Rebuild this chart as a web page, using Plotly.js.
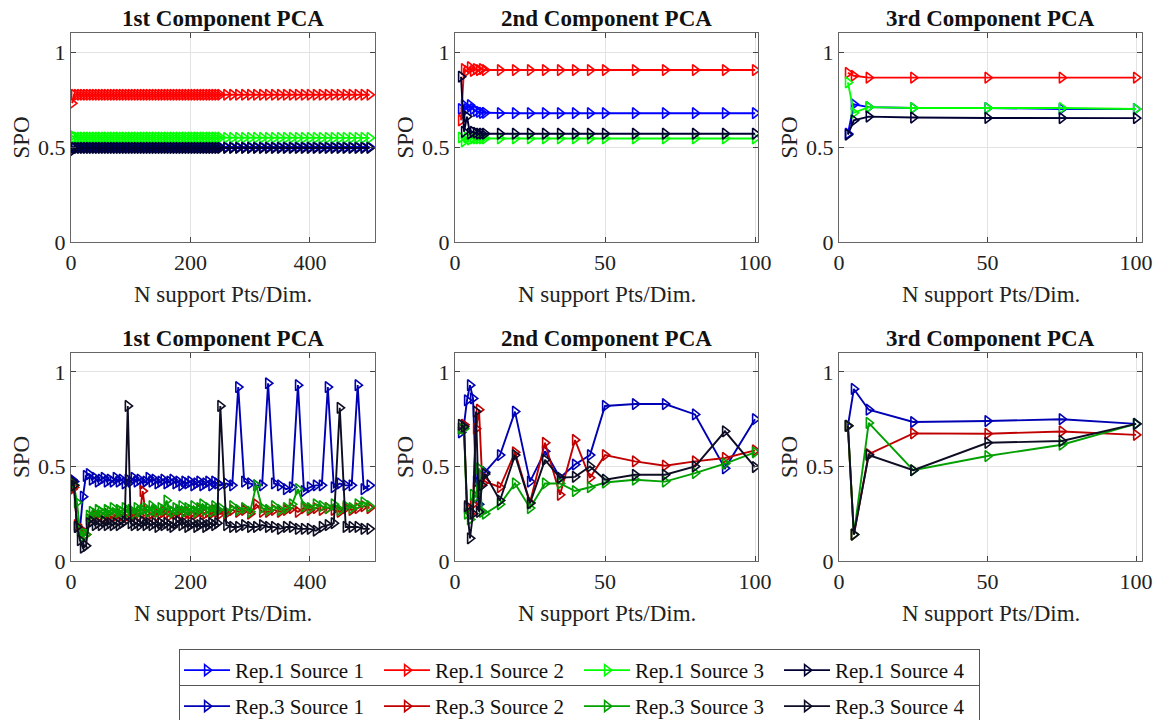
<!DOCTYPE html>
<html>
<head>
<meta charset="utf-8">
<script src="https://cdn.plot.ly/plotly-3.0.1.min.js"></script>
<style>html,body{margin:0;padding:0;background:#fff;}#chart{width:1159px;height:720px;}</style>
</head>
<body>
<div id="chart"></div>
<script>
// ---------- x grids ----------
const xDense = [2,5,10,15,20,25,30,35,40,45,50,55,60,65,70,75,80,85,90,95,100,105,110,115,120,125,130,135,140,145,150,155,160,165,170,175,180,185,190,195,200,205,210,215,220,225,230,235,240,245,250,260,270,280,290,300,310,320,330,340,350,360,370,380,390,400,410,420,430,440,450,460,470,480,490,500];
const xMid = [2,3,4,5,6,7,8,9,10,15,20,25,30,35,40,45,50,60,70,80,90,100];
const xSparse = [3,5,10,25,50,75,100];

// ---------- Rep.1, 1st component (top left) ----------
const r1c1_s1 = [0.50,0.50,0.50,0.50,0.50,0.50,0.50,0.50,0.50,0.50,0.50,0.50,0.50,0.50,0.50,0.50,0.50,0.50,0.50,0.50,0.50,0.50,0.50,0.50,0.50,0.50,0.50,0.50,0.50,0.50,0.50,0.50,0.50,0.50,0.50,0.50,0.50,0.50,0.50,0.50,0.50,0.50,0.50,0.50,0.50,0.50,0.50,0.50,0.50,0.50,0.50,0.50,0.50,0.50,0.50,0.50,0.50,0.50,0.50,0.50,0.50,0.50,0.50,0.50,0.50,0.50,0.50,0.50,0.50,0.50,0.50,0.50,0.50,0.50,0.50,0.50];
const r1c1_s2 = [0.73,0.775,0.775,0.775,0.775,0.775,0.775,0.775,0.775,0.775,0.775,0.775,0.775,0.775,0.775,0.775,0.775,0.775,0.775,0.775,0.775,0.775,0.775,0.775,0.775,0.775,0.775,0.775,0.775,0.775,0.775,0.775,0.775,0.775,0.775,0.775,0.775,0.775,0.775,0.775,0.775,0.775,0.775,0.775,0.775,0.775,0.775,0.775,0.775,0.775,0.775,0.775,0.775,0.775,0.775,0.775,0.775,0.775,0.775,0.775,0.775,0.775,0.775,0.775,0.775,0.775,0.775,0.775,0.775,0.775,0.775,0.775,0.775,0.775,0.775,0.775];
const r1c1_s3 = [0.56,0.55,0.55,0.55,0.55,0.55,0.55,0.55,0.55,0.55,0.55,0.55,0.55,0.55,0.55,0.55,0.55,0.55,0.55,0.55,0.55,0.55,0.55,0.55,0.55,0.55,0.55,0.55,0.55,0.55,0.55,0.55,0.55,0.55,0.55,0.55,0.55,0.55,0.55,0.55,0.55,0.55,0.55,0.55,0.55,0.55,0.55,0.55,0.55,0.55,0.55,0.548,0.548,0.548,0.548,0.548,0.548,0.548,0.548,0.548,0.548,0.548,0.548,0.548,0.548,0.548,0.548,0.548,0.548,0.548,0.548,0.548,0.548,0.548,0.548,0.548];
const r1c1_s4 = [0.48,0.495,0.495,0.495,0.495,0.495,0.495,0.495,0.495,0.495,0.495,0.495,0.495,0.495,0.495,0.495,0.495,0.495,0.495,0.495,0.495,0.495,0.495,0.495,0.495,0.495,0.495,0.495,0.495,0.495,0.495,0.495,0.495,0.495,0.495,0.495,0.495,0.495,0.495,0.495,0.495,0.495,0.495,0.495,0.495,0.495,0.495,0.495,0.495,0.495,0.495,0.495,0.495,0.495,0.495,0.495,0.495,0.495,0.495,0.495,0.495,0.495,0.495,0.495,0.495,0.495,0.495,0.495,0.495,0.495,0.495,0.495,0.495,0.495,0.495,0.495];

// ---------- Rep.1, 2nd component (top middle) ----------
const r1c2_s1 = [0.70,0.72,0.70,0.72,0.70,0.69,0.685,0.68,0.68,0.678,0.678,0.678,0.678,0.678,0.678,0.678,0.678,0.678,0.678,0.678,0.678,0.678];
const r1c2_s2 = [0.64,0.91,0.90,0.92,0.90,0.91,0.905,0.91,0.905,0.905,0.905,0.905,0.905,0.905,0.905,0.905,0.905,0.905,0.905,0.905,0.905,0.905];
const r1c2_s3 = [0.55,0.53,0.55,0.54,0.545,0.545,0.545,0.545,0.545,0.545,0.545,0.545,0.545,0.545,0.545,0.545,0.545,0.545,0.545,0.545,0.545,0.545];
const r1c2_s4 = [0.87,0.58,0.66,0.57,0.58,0.575,0.57,0.57,0.57,0.57,0.57,0.57,0.57,0.57,0.57,0.57,0.57,0.57,0.57,0.57,0.57,0.57];

// ---------- Rep.1, 3rd component (top right) ----------
const r1c3_s1 = [0.57,0.725,0.71,0.705,0.705,0.70,0.70];
const r1c3_s2 = [0.89,0.875,0.865,0.865,0.865,0.865,0.865];
const r1c3_s3 = [0.84,0.68,0.71,0.705,0.705,0.705,0.70];
const r1c3_s4 = [0.565,0.64,0.66,0.655,0.653,0.652,0.652];

// ---------- Rep.3, 1st component (bottom left) ----------
const r3c1_s1 = [0.43,0.42,0.18,0.17,0.34,0.45,0.46,0.43,0.44,0.42,0.43,0.44,0.42,0.43,0.42,0.44,0.42,0.43,0.41,0.43,0.42,0.44,0.42,0.43,0.41,0.42,0.44,0.42,0.43,0.41,0.42,0.43,0.41,0.42,0.43,0.41,0.42,0.40,0.42,0.41,0.42,0.40,0.41,0.42,0.40,0.41,0.42,0.40,0.42,0.41,0.40,0.41,0.40,0.92,0.42,0.41,0.40,0.40,0.94,0.41,0.40,0.38,0.39,0.93,0.37,0.39,0.40,0.40,0.92,0.39,0.41,0.40,0.40,0.93,0.38,0.40];
const r3c1_s2 = [0.38,0.39,0.19,0.17,0.15,0.14,0.22,0.23,0.24,0.23,0.24,0.23,0.25,0.24,0.23,0.24,0.25,0.24,0.23,0.24,0.25,0.24,0.25,0.24,0.37,0.25,0.24,0.25,0.26,0.24,0.25,0.26,0.25,0.24,0.26,0.25,0.26,0.25,0.24,0.26,0.25,0.26,0.25,0.27,0.26,0.25,0.26,0.25,0.27,0.26,0.25,0.25,0.27,0.26,0.27,0.25,0.30,0.26,0.26,0.27,0.26,0.27,0.28,0.26,0.28,0.27,0.28,0.27,0.28,0.27,0.26,0.28,0.27,0.28,0.29,0.28];
const r3c1_s3 = [0.41,0.40,0.31,0.16,0.13,0.14,0.24,0.26,0.25,0.27,0.26,0.25,0.27,0.26,0.28,0.25,0.27,0.26,0.28,0.26,0.27,0.25,0.28,0.26,0.27,0.28,0.26,0.29,0.27,0.26,0.28,0.27,0.32,0.27,0.26,0.28,0.27,0.29,0.26,0.28,0.27,0.29,0.26,0.28,0.30,0.27,0.28,0.26,0.29,0.27,0.28,0.26,0.29,0.27,0.28,0.26,0.40,0.28,0.27,0.29,0.27,0.28,0.30,0.38,0.29,0.28,0.30,0.29,0.28,0.30,0.27,0.29,0.28,0.30,0.31,0.29];
const r3c1_s4 = [0.42,0.40,0.18,0.11,0.07,0.08,0.20,0.21,0.19,0.20,0.19,0.21,0.19,0.20,0.19,0.20,0.19,0.20,0.21,0.82,0.20,0.19,0.20,0.19,0.21,0.19,0.20,0.19,0.20,0.18,0.20,0.19,0.20,0.19,0.18,0.20,0.21,0.19,0.20,0.18,0.19,0.20,0.18,0.19,0.20,0.18,0.19,0.20,0.19,0.20,0.82,0.19,0.18,0.18,0.19,0.18,0.18,0.19,0.18,0.18,0.17,0.18,0.18,0.17,0.17,0.17,0.16,0.18,0.19,0.20,0.81,0.18,0.18,0.18,0.17,0.17];

// ---------- Rep.3, 2nd component (bottom middle) ----------
const r3c2_s1 = [0.68,0.72,0.85,0.93,0.86,0.42,0.30,0.45,0.47,0.56,0.79,0.42,0.58,0.44,0.51,0.56,0.82,0.83,0.83,0.775,0.49,0.75];
const r3c2_s2 = [0.70,0.72,0.28,0.25,0.30,0.70,0.80,0.45,0.42,0.39,0.575,0.31,0.625,0.35,0.64,0.44,0.56,0.527,0.504,0.527,0.545,0.585];
const r3c2_s3 = [0.70,0.70,0.25,0.22,0.35,0.34,0.49,0.26,0.25,0.30,0.41,0.28,0.41,0.41,0.37,0.39,0.415,0.43,0.42,0.465,0.515,0.575];
const r3c2_s4 = [0.72,0.71,0.29,0.12,0.25,0.79,0.26,0.40,0.46,0.32,0.56,0.305,0.535,0.44,0.445,0.50,0.43,0.456,0.456,0.50,0.686,0.497];

// ---------- Rep.3, 3rd component (bottom right) ----------
const r3c3_s1 = [0.715,0.91,0.80,0.735,0.74,0.75,0.725];
const r3c3_s2 = [0.715,0.14,0.565,0.675,0.673,0.685,0.667];
const r3c3_s3 = [0.715,0.14,0.73,0.48,0.555,0.615,0.725];
const r3c3_s4 = [0.715,0.14,0.56,0.48,0.625,0.635,0.725];

const seriesNames = ["Source 1","Source 2","Source 3","Source 4"];
const rep1Colors = ["#0000ff","#ff0000","#00ff00","#000033"];
const rep3Colors = ["#0000b4","#c00000","#00a000","#0d0d24"];
const panelTitles = ["1st Component PCA","2nd Component PCA","3rd Component PCA"];
const xTickVals = [[0,200,400],[0,50,100],[0,50,100]];
const yTickVals = [0,0.5,1];

const FONT = "'Liberation Serif', 'DejaVu Serif', serif";
const W = 1159, H = 720;

const rep1 = [[r1c1_s1,r1c1_s2,r1c1_s3,r1c1_s4],[r1c2_s1,r1c2_s2,r1c2_s3,r1c2_s4],[r1c3_s1,r1c3_s2,r1c3_s3,r1c3_s4]];
const rep3 = [[r3c1_s1,r3c1_s2,r3c1_s3,r3c1_s4],[r3c2_s1,r3c2_s2,r3c2_s3,r3c2_s4],[r3c3_s1,r3c3_s2,r3c3_s3,r3c3_s4]];
const xs = [xDense, xMid, xSparse];

const traces = [];
function addRep(rep, repLabel, colors, rowOffset, legendId) {
  for (let p = 0; p < 3; p++) {
    const axN = rowOffset + p + 1;
    for (let s = 0; s < 4; s++) {
      traces.push({
        type: "scatter", mode: "lines+markers",
        x: xs[p], y: rep[p][s],
        xaxis: axN === 1 ? "x" : "x" + axN,
        yaxis: axN === 1 ? "y" : "y" + axN,
        name: repLabel + " " + seriesNames[s],
        legend: legendId,
        legendgroup: repLabel + s,
        showlegend: p === 0,
        line: {color: colors[s], width: 1.9},
        marker: {symbol: "triangle-right-open", size: 9.5, color: colors[s], line: {color: colors[s], width: 1.6}},
        hoverinfo: "skip"
      });
    }
  }
}
addRep(rep1, "Rep.1", rep1Colors, 0, "legend");
addRep(rep3, "Rep.3", rep3Colors, 3, "legend2");

// panel geometry in pixels
const colX = [[71,375],[455,758],[839,1142]];
const rowY = [[33,242],[353,561]];
const xRanges = [[0,509],[0,101],[0,102]];

const legendBase = {
  orientation: "h", x: 0.5, xanchor: "center", yanchor: "top",
  bordercolor: "#555", borderwidth: 1, bgcolor: "#fff",
  font: {family: FONT, size: 21, color: "#111"},
  tracegroupgap: 0, itemwidth: 46,
  entrywidth: 139, entrywidthmode: "pixels"
};

const layout = {
  width: W, height: H,
  margin: {l:0,r:0,t:0,b:0, autoexpand: false},
  paper_bgcolor: "#ffffff", plot_bgcolor: "#ffffff",
  font: {family: FONT, size: 22, color: "#222"},
  showlegend: true,
  annotations: [],
  legend: Object.assign({}, legendBase, {y: 1 - 649/H}),
  legend2: Object.assign({}, legendBase, {y: 1 - 685/H})
};

for (let r = 0; r < 2; r++) {
  for (let c = 0; c < 3; c++) {
    const n = r*3 + c + 1;
    const xk = n === 1 ? "xaxis" : "xaxis" + n;
    const yk = n === 1 ? "yaxis" : "yaxis" + n;
    const xa = n === 1 ? "x" : "x" + n;
    const ya = n === 1 ? "y" : "y" + n;
    layout[xk] = {
      domain: [colX[c][0]/W, colX[c][1]/W], anchor: ya,
      range: xRanges[c], tickvals: xTickVals[c], ticktext: xTickVals[c].map(String),
      showgrid: true, gridcolor: "#e3e3e3", gridwidth: 1, zeroline: false,
      showline: true, linecolor: "#666", linewidth: 1, mirror: "ticks",
      ticks: "inside", ticklen: 5, tickcolor: "#444", tickwidth: 1,
      ticklabelstandoff: 1,
      tickfont: {family: FONT, size: 22, color: "#222"}
    };
    layout[yk] = {
      domain: [1 - rowY[r][1]/H, 1 - rowY[r][0]/H], anchor: xa,
      range: [0, 1.1], tickvals: yTickVals, ticktext: ["0","0.5","1"],
      showgrid: true, gridcolor: "#e3e3e3", gridwidth: 1, zeroline: false,
      showline: true, linecolor: "#666", linewidth: 1, mirror: "ticks",
      ticks: "inside", ticklen: 5, tickcolor: "#444", tickwidth: 1,
      tickfont: {family: FONT, size: 22, color: "#222"}
    };
    const cx = (colX[c][0] + colX[c][1]) / 2;
    layout.annotations.push({
      text: "<b>" + panelTitles[c] + "</b>", xref: "paper", yref: "paper",
      x: cx/W, y: 1 - (rowY[r][0] - 15)/H, xanchor: "center", yanchor: "middle",
      showarrow: false, font: {family: FONT, size: 23, color: "#111"}
    });
    layout.annotations.push({
      text: "N support Pts/Dim.", xref: "paper", yref: "paper",
      x: cx/W, y: 1 - (rowY[r][1] + 52)/H, xanchor: "center", yanchor: "middle",
      showarrow: false, font: {family: FONT, size: 23, color: "#222"}
    });
    layout.annotations.push({
      text: "SPO", xref: "paper", yref: "paper", textangle: -90,
      x: (colX[c][0] - 50)/W, y: 1 - ((rowY[r][0] + rowY[r][1])/2)/H,
      xanchor: "center", yanchor: "middle",
      showarrow: false, font: {family: FONT, size: 23, color: "#222"}
    });
  }
}

Plotly.newPlot("chart", traces, layout, {displayModeBar: false, staticPlot: true});
</script>
</body>
</html>
